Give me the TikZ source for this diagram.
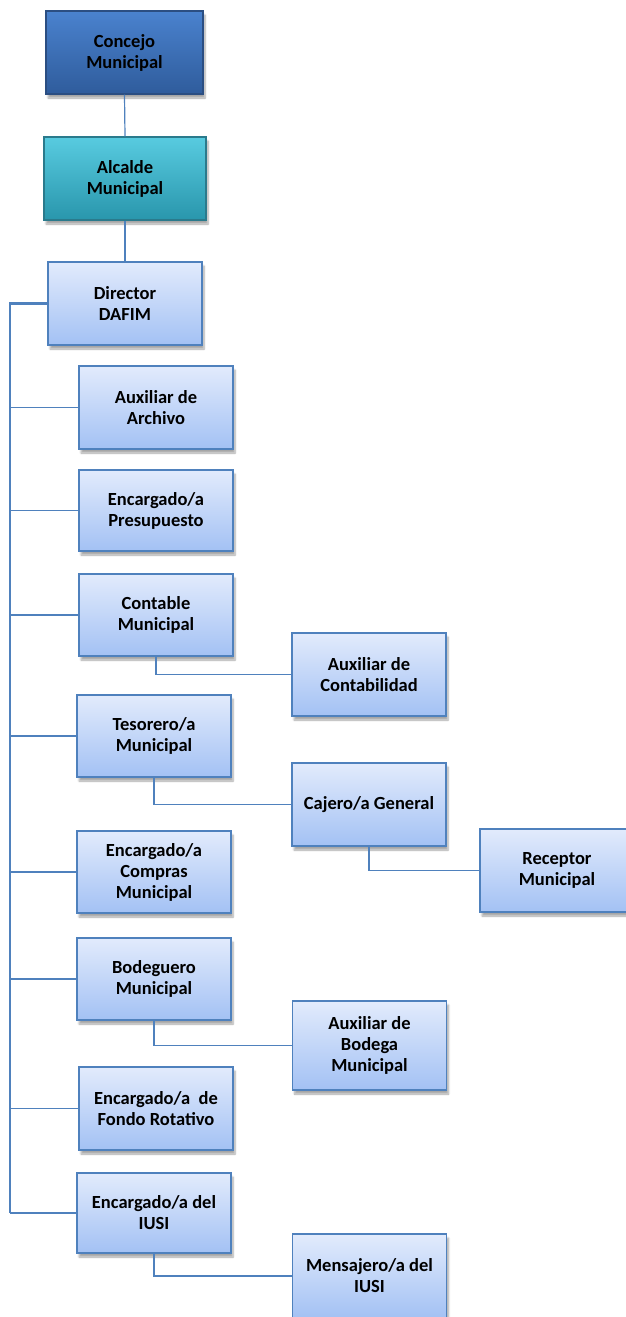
\documentclass[tikz,border=0pt]{standalone}
\usepackage{fontspec}
\setmainfont{Carlito}
\usetikzlibrary{shadows.blur}
\definecolor{linkblue}{HTML}{4F81BD}
\definecolor{boxedge}{HTML}{4F81BD}
\definecolor{boxtop}{HTML}{E2EBFC}
\definecolor{boxbot}{HTML}{A3C1F4}
\definecolor{councilTop}{HTML}{4A82CE}
\definecolor{councilBot}{HTML}{2F5C9C}
\definecolor{councilEdge}{HTML}{2B4E82}
\definecolor{mayorTop}{HTML}{58CBE0}
\definecolor{mayorBot}{HTML}{2996AC}
\definecolor{mayorEdge}{HTML}{2A7A8C}
\tikzset{
  unit/.style={rectangle, draw=boxedge, line width=1.3pt, top color=boxtop, bottom color=boxbot,
    minimum width=154pt, minimum height=83pt, align=center, inner sep=2pt,
    font=\bfseries\fontsize{18.5}{21}\selectfont, text=black,
    blur shadow={shadow xshift=2pt, shadow yshift=-4pt, shadow blur steps=6, shadow opacity=35}},
  council/.style={unit, draw=councilEdge, top color=councilTop, bottom color=councilBot},
  mayor/.style={unit, draw=mayorEdge, top color=mayorTop, bottom color=mayorBot},
  link/.style={draw=linkblue, line width=1.2pt},
  trunk/.style={draw=linkblue, line width=2.2pt}
}
\begin{document}
\begin{tikzpicture}[x=1pt,y=-1pt]
\useasboundingbox (0,0) rectangle (626,1317);
\clip (0,0) rectangle (626,1317);

% governing bodies
\node[council, minimum width=157pt] (concejo) at (124.5,52.5) {Concejo\\Municipal};
\node[mayor, minimum width=162pt] (alcalde) at (125,178.5) {Alcalde\\Municipal};
\node[unit] (director) at (125,303.5) {Director\\DAFIM};

% units reporting to the director
\node[unit] (archivo) at (156,407.5) {Auxiliar de\\Archivo};
\node[unit, minimum height=81pt] (presupuesto) at (156,510.5) {Encargado/a\\Presupuesto};
\node[unit, minimum height=82pt] (contable) at (156,615) {Contable\\Municipal};
\node[unit, minimum height=82pt] (tesorero) at (154,736) {Tesorero/a\\Municipal};
\node[unit, minimum height=82pt] (compras) at (154,872) {Encargado/a\\Compras\\Municipal};
\node[unit, minimum height=82pt] (bodeguero) at (154,979) {Bodeguero\\Municipal};
\node[unit] (fondo) at (156,1108.5) {Encargado/a\ \ de\\Fondo Rotativo};
\node[unit, minimum height=80pt] (iusi) at (154,1213) {Encargado/a del\\IUSI};

% second level
\node[unit] (auxcont) at (369,674.5) {Auxiliar de\\Contabilidad};
\node[unit] (cajero) at (369,804.5) {Cajero/a General};
\node[unit] (receptor) at (557,870.5) {Receptor\\Municipal};
\node[unit, minimum height=89pt] (auxbodega) at (369.5,1045.5) {Auxiliar de\\Bodega\\Municipal};
\node[unit, minimum height=84pt] (mensajero) at (369.5,1276) {Mensajero/a del\\IUSI};

% connectors
\coordinate (trunktop) at (10,303.5);
\coordinate (trunkbot) at (10,1213);
\draw[link] (concejo.south) -- (alcalde.north);
\draw[link] (alcalde.south) -- (director.north);
\draw[trunk] (director.west) -- (trunktop) -- (10,380);
\draw[link] (trunktop) -- (trunkbot);
\foreach \n in {archivo,presupuesto,contable,tesorero,compras,bodeguero,fondo,iusi}
  \draw[link] (\n.west) -- (\n.west -| trunktop);
\draw[link] (contable.south) |- (auxcont.west);
\draw[link] (tesorero.south) |- (cajero.west);
\draw[link] (cajero.south) |- (receptor.west);
\draw[link] (bodeguero.south) |- (auxbodega.west);
\draw[link] (iusi.south) |- (mensajero.west);
\end{tikzpicture}
\end{document}
